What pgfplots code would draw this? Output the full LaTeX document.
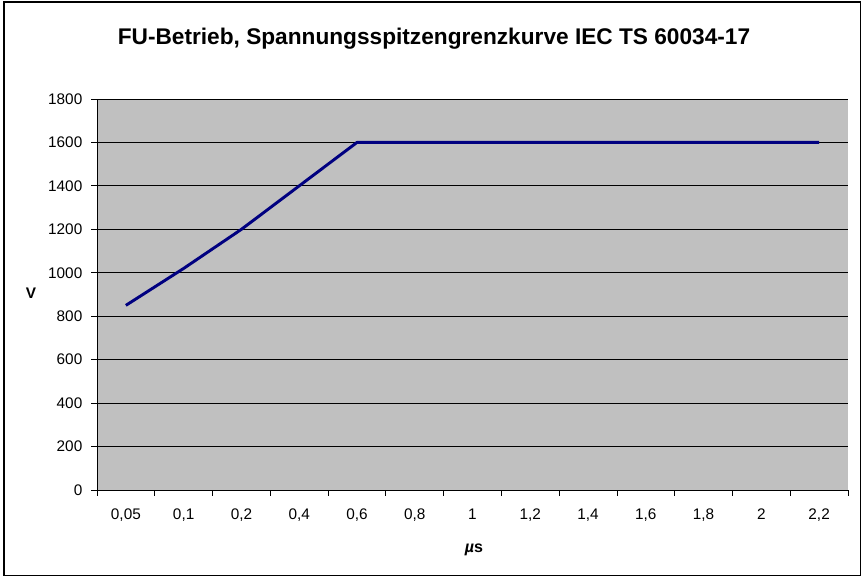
\documentclass[border=0pt]{standalone}
\usepackage{fontspec}
\setmainfont{Liberation Sans}
\usepackage{pgfplots}
\pgfplotsset{compat=1.18}
\definecolor{plotgray}{HTML}{C0C0C0}
\definecolor{navyline}{HTML}{000080}
\begin{document}
\begin{tikzpicture}
  \useasboundingbox (0,0) rectangle (647.25pt,432.75pt);
  \draw[black, line width=0.8pt] (3pt,1pt) rectangle (645.5pt,431.25pt);
  \begin{axis}[
      at={(72.75pt,65.25pt)}, anchor=south west,
      scale only axis, width=563.25pt, height=293.25pt,
      xmin=-0.5, xmax=12.5,
      ymin=0, ymax=1800,
      axis background/.style={fill=plotgray},
      axis x line*=bottom, axis y line*=left,
      axis line style={black, line width=0.6pt},
      tick align=outside,
      major tick length=4.5pt,
      tick style={black, line width=0.6pt},
      xtick={-0.5,0.5,...,12.5},
      xticklabels={},
      extra x ticks={0,1,...,12},
      extra x tick labels={{0,05},{0,1},{0,2},{0,4},{0,6},{0,8},{1},{1,2},{1,4},{1,6},{1,8},{2},{2,2}},
      extra x tick style={major tick length=0pt, grid=none},
      ytick={0,200,...,1800},
      ymajorgrids,
      grid style={black, line width=0.6pt},
      /pgf/number format/assume math mode=true,
      /pgf/number format/1000 sep={},
      tick label style={font=\fontsize{11.5}{13}\selectfont},
      xticklabel style={yshift=-10.5pt},
      yticklabel style={xshift=-3pt},
    ]
    \addplot[color=navyline, line width=2.2pt, line join=round]
      coordinates {
        (0,  850)
        (1,  1020)
        (2,  1200)
        (3,  1400)
        (4,  1600)
        (5,  1600)
        (6,  1600)
        (7,  1600)
        (8,  1600)
        (9,  1600)
        (10, 1600)
        (11, 1600)
        (12, 1600)
      };
  \end{axis}
  \node[font=\bfseries\fontsize{17}{20}\selectfont] at (325.5pt,404pt) {FU-Betrieb, Spannungsspitzengrenzkurve IEC TS 60034-17};
  \node[font=\bfseries\fontsize{11.5}{13}\selectfont] at (23.25pt,213pt) {V};
  \node[font=\bfseries\fontsize{12}{14}\selectfont] at (355.5pt,20.25pt) {\textit{µ}s};
\end{tikzpicture}
\end{document}
